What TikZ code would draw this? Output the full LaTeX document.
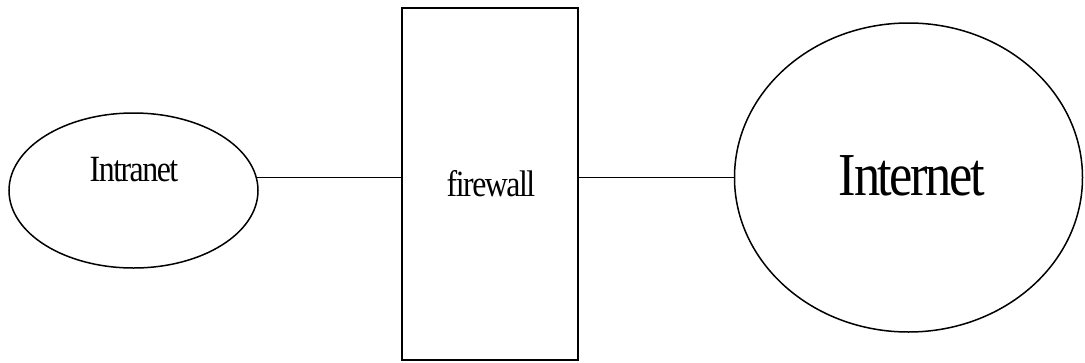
\documentclass[tikz,border=0pt]{standalone}
\usepackage{fontspec}
\newfontfamily\narrowserif[FakeStretch=0.86,LetterSpace=-4]{Liberation Serif}
\usetikzlibrary{shapes.geometric}
\tikzset{
  netcloud/.style={draw, ellipse, line width=1.5pt, inner sep=0pt, outer sep=0pt},
  wallbox/.style={draw, rectangle, line width=1.5pt, inner sep=0pt, outer sep=0pt},
  netlabel/.style={inner sep=0pt, anchor=base, font=\narrowserif},
  wire/.style={line width=1.5pt}
}
\begin{document}
\begin{tikzpicture}[x=1pt, y=-1pt]
    \useasboundingbox (0,0) rectangle (1085,362);
    \node[netcloud, minimum width=249pt, minimum height=155pt] (intranet) at (133.5,190.5) {};
    \node[wallbox, minimum width=176pt, minimum height=352pt] (fw) at (490,184) {};
    \node[netcloud, minimum width=348pt, minimum height=309pt] (internet) at (908.5,177.5) {};
    \node[netlabel, font=\narrowserif\fontsize{37}{37}\selectfont] (intranetlbl) at (134,181) {Intranet};
    \node[netlabel, font=\narrowserif\fontsize{37}{37}\selectfont] (fwlbl) at (491,196) {firewall};
    \node[netlabel, font=\narrowserif\fontsize{61}{61}\selectfont] (internetlbl) at (912,195) {Internet};
    \draw[wire] (intranet.6) -- (intranet.6 -| fw.west);
    \draw[wire] (internet.west -| fw.east) -- (internet.west);
\end{tikzpicture}
\end{document}
